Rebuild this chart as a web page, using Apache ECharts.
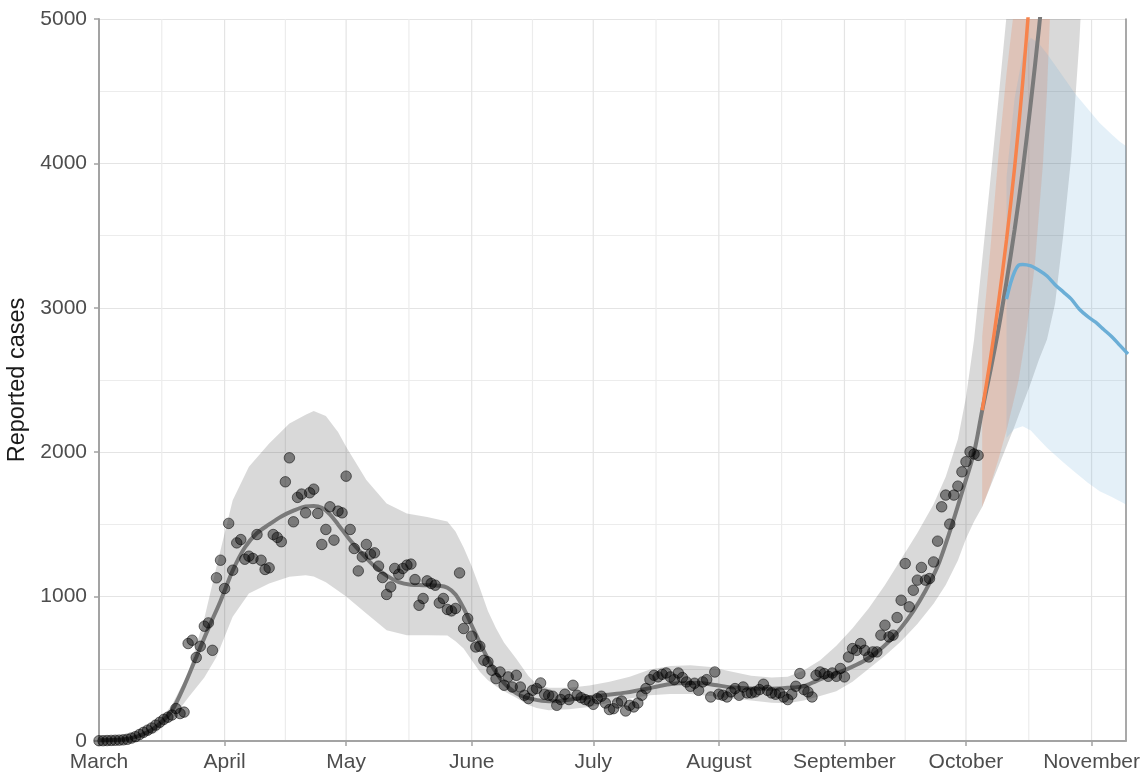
<!DOCTYPE html>
<html>
<head>
<meta charset="utf-8">
<script src="https://cdn.jsdelivr.net/npm/echarts@6/dist/echarts.min.js"></script>
<style>
  html, body { margin: 0; padding: 0; background: #ffffff; }
  #chart { width: 1141px; height: 773px; }
</style>
</head>
<body>
<div id="chart"></div>
<script>
// x positions are days since 1 March
const monthNames = ['March', 'April', 'May', 'June', 'July', 'August', 'September', 'October', 'November'];
const monthStartDays = [0, 31, 61, 92, 122, 153, 184, 214, 245];
const midMonthDays = [15.5, 46, 76.5, 107, 137.5, 168.5, 199, 229.5];

// daily reported cases, starting 1 March
const reportedCases = [
  2, 2, 3, 4, 5, 6, 8, 12, 20, 30, 45, 60, 75, 90, 110, 130, 150, 165, 180, 225, 190, 200,
  675, 698, 578, 656, 795, 818, 628, 1130, 1252, 1056, 1507, 1183, 1372, 1395, 1259, 1280, 1264, 1430, 1252, 1188, 1199, 1430, 1410, 1380,
  1795, 1961, 1518, 1687, 1710, 1580, 1719, 1744, 1576, 1361, 1465, 1622, 1391, 1592, 1580, 1834, 1465, 1333, 1178, 1275,
  1361, 1294, 1303, 1211, 1132, 1015, 1067, 1195, 1155, 1195, 1218, 1225, 1118, 940, 987, 1109, 1091, 1079, 956, 987,
  911, 901, 918, 1164, 779, 848, 726, 651, 656, 559, 548,
  490, 432, 478, 386, 444, 374, 455, 374, 317, 294, 351, 363, 402, 324, 317, 310, 247, 287, 324, 287,
  386, 317, 300, 287, 277, 254, 294, 310, 263, 218, 224, 263, 277, 208, 247, 236, 263, 317, 363, 425,
  455, 444, 462, 471, 444, 425, 471, 439, 409, 379, 400, 351, 409, 425, 305, 478, 324, 317, 305, 340,
  363, 317, 374, 333, 333, 340, 356, 393, 351, 333, 324, 333, 305, 287, 324, 379, 467, 356, 340,
  305, 455, 478, 467, 448, 471, 448, 502, 444, 582, 640, 628, 675, 628, 582, 617, 617, 733, 802, 721,
  733, 855, 975, 1229, 929, 1044, 1114, 1202, 1114, 1125, 1240, 1384, 1622, 1703, 1502, 1703, 1765, 1864, 1934, 2003,
  1987, 1978
];

// smoothed fit through the reported cases
const fitDays = [0, 4, 8, 12, 15, 18, 21, 24, 27, 30, 33, 36, 39, 42, 45, 48, 51, 53, 55, 57, 59, 62, 65, 68, 71, 74, 77, 80, 84, 86, 88, 90, 92, 94, 96, 98, 100, 102, 104, 107, 111, 115, 120, 125, 130, 135, 139, 143, 148, 152, 156, 161, 166, 170, 174, 177, 180, 183, 186, 189, 192, 195, 198, 201, 204, 207, 210, 213, 216, 218];
const fitValues = [5, 8, 20, 60, 120, 210, 380, 580, 780, 970, 1180, 1340, 1440, 1500, 1555, 1595, 1625, 1628, 1615, 1570, 1500, 1390, 1295, 1210, 1145, 1100, 1082, 1079, 1075, 1062, 1015, 920, 800, 680, 570, 475, 400, 350, 315, 290, 275, 282, 300, 318, 335, 360, 385, 400, 402, 388, 372, 363, 362, 368, 380, 415, 450, 478, 515, 558, 615, 690, 785, 900, 1040, 1210, 1450, 1720, 2000, 2290];

// band around the fit
const fitBandDays = [0, 5, 10, 14, 18, 22, 26, 29, 33, 37, 42, 47, 51, 53, 56, 59, 61, 66, 71, 76, 81, 86, 88, 90, 92, 94, 96, 98, 100, 103, 106, 108, 111, 116, 121, 126, 131, 136, 141, 146, 151, 156, 161, 166, 170, 174, 178, 182, 186, 190, 194, 198, 202, 206, 209, 212, 214, 216, 218, 220, 222, 224, 226, 228, 230, 232, 234, 236, 238, 240, 242, 243];
const fitBandLow = [0, 3, 20, 55, 150, 300, 440, 582, 860, 1021, 1090, 1137, 1148, 1140, 1100, 1040, 1000, 883, 767, 733, 733, 730, 690, 640, 560, 480, 421, 380, 345, 300, 250, 228, 213, 220, 236, 265, 295, 317, 326, 325, 312, 295, 280, 265, 262, 280, 312, 345, 410, 500, 590, 690, 810, 950, 1080, 1250, 1400, 1520, 1620, 1760, 1900, 2040, 2180, 2330, 2480, 2640, 2780, 3030, 3500, 4050, 4850, 5400];
const fitBandHigh = [8, 15, 45, 110, 250, 470, 850, 1206, 1668, 1899, 2060, 2199, 2260, 2285, 2250, 2140, 2037, 1807, 1645, 1576, 1552, 1520, 1450, 1340, 1210, 1060, 900, 780, 680, 570, 450, 395, 368, 368, 385, 410, 445, 495, 520, 525, 512, 482, 452, 440, 445, 490, 560, 660, 780, 920, 1080, 1260, 1440, 1640, 1830, 2090, 2380, 2780, 3330, 3880, 4440, 5020, 5600, 6200, 6800, 7400, 8000, 8600, 9200, 9800, 10400, 10700];

// continuation of the fit beyond the last report
const trendDays = [218, 220, 222, 224, 226, 228, 230, 232, 234];
const trendValues = [2290, 2560, 2850, 3180, 3540, 3950, 4420, 4930, 5500];

// orange scenario
const orangeDays = [218, 220, 222, 224, 226, 228, 230];
const orangeValues = [2290, 2640, 3030, 3470, 3970, 4560, 5250];
const orangeBandDays = [218, 220, 222, 224, 226, 227, 229, 231, 233, 234, 235];
const orangeBandLow = [1620, 1770, 1950, 2150, 2380, 2500, 2850, 3300, 4000, 4500, 5200];
const orangeBandHigh = [2800, 3400, 4050, 4620, 5100, 5400, 6000, 6600, 7200, 7500, 7800];

// blue scenario
const blueDays = [224, 225, 226, 227, 228, 230, 232, 234, 236, 238, 240, 242, 244, 246, 248, 250, 252, 254];
const blueValues = [3060, 3170, 3250, 3295, 3300, 3290, 3260, 3220, 3160, 3110, 3060, 2990, 2940, 2900, 2850, 2800, 2740, 2680];
const blueBandDays = [224, 226, 228, 230, 232, 234, 236, 238, 241, 244, 247, 250, 252, 254];
const blueBandLow = [2100, 2160, 2180, 2150, 2090, 2030, 1980, 1930, 1860, 1790, 1730, 1690, 1660, 1630];
const blueBandHigh = [3900, 4450, 4750, 4870, 4830, 4760, 4680, 4600, 4480, 4380, 4280, 4200, 4150, 4110];

const zip = (xs, ys) => xs.map((x, i) => [x, ys[i]]);

function clipRect(params) {
  const cs = params.coordSys;
  return { type: 'rect', shape: { x: cs.x, y: cs.y, width: cs.width, height: cs.height } };
}

function bandSeries(name, days, low, high, fill, z) {
  return {
    name: name,
    type: 'custom',
    silent: true,
    z: z,
    data: [[days[0], low[0]]],
    renderItem: function (params, api) {
      const pts = [];
      for (let i = 0; i < days.length; i++) pts.push(api.coord([days[i], high[i]]));
      for (let i = days.length - 1; i >= 0; i--) pts.push(api.coord([days[i], low[i]]));
      return {
        type: 'polygon',
        shape: { points: pts },
        style: { fill: fill },
        clipPath: clipRect(params)
      };
    }
  };
}

function verticalGridSeries(days, color, z) {
  return {
    type: 'custom',
    silent: true,
    z: z,
    data: days.map(d => [d, 0]),
    renderItem: function (params, api) {
      const d = api.value(0);
      const p0 = api.coord([d, 0]);
      const p1 = api.coord([d, 5000]);
      return {
        type: 'line',
        shape: { x1: p0[0], y1: p0[1], x2: p1[0], y2: p1[1] },
        style: { stroke: color, lineWidth: 1.2 }
      };
    }
  };
}

const font = 'Liberation Sans, Arial, Helvetica, sans-serif';
const chart = echarts.init(document.getElementById('chart'), null, { renderer: 'canvas' });

chart.setOption({
  animation: false,
  backgroundColor: '#ffffff',
  grid: { left: 99, right: 15, top: 19, bottom: 32, containLabel: false, outerBoundsMode: 'none' },
  xAxis: {
    type: 'value',
    min: 0,
    max: 253.5,
    splitLine: { show: false },
    axisLine: { show: true, onZero: false, lineStyle: { color: '#a3a3a3', width: 2 } },
    axisTick: { show: true, length: 5, customValues: monthStartDays, lineStyle: { color: '#a3a3a3', width: 1.5 } },
    axisLabel: {
      customValues: monthStartDays,
      margin: 11,
      color: '#4d4d4d',
      fontFamily: font,
      fontSize: 21,
      formatter: v => monthNames[monthStartDays.indexOf(v)]
    }
  },
  yAxis: [{
    type: 'value',
    min: 0,
    max: 5000,
    interval: 1000,
    name: 'Reported cases',
    nameLocation: 'middle',
    nameRotate: 90,
    nameGap: 66,
    nameTextStyle: { color: '#1a1a1a', fontFamily: font, fontSize: 23.5 },
    axisLine: { show: true, lineStyle: { color: '#a3a3a3', width: 2 } },
    axisTick: { show: true, length: 5, lineStyle: { color: '#a3a3a3', width: 1.5 } },
    axisLabel: {
      margin: 12,
      color: '#4d4d4d',
      fontFamily: font,
      fontSize: 21,
      formatter: v => String(v)
    },
    splitLine: { show: true, lineStyle: { color: '#e4e4e4', width: 1.2 } },
    minorTick: { show: false, splitNumber: 2 },
    minorSplitLine: { show: true, lineStyle: { color: '#ececec', width: 1.2 } }
  }, {
    type: 'value',
    position: 'right',
    min: 0,
    max: 5000,
    axisLine: { show: true, lineStyle: { color: '#8c8c8c', width: 1.5 } },
    axisTick: { show: false },
    axisLabel: { show: false },
    splitLine: { show: false }
  }],
  series: [
    verticalGridSeries(midMonthDays, '#ececec', 0),
    verticalGridSeries(monthStartDays.slice(1), '#e4e4e4', 0),
    bandSeries('fit band', fitBandDays, fitBandLow, fitBandHigh, 'rgba(0,0,0,0.15)', 1),
    bandSeries('orange band', orangeBandDays, orangeBandLow, orangeBandHigh, 'rgba(240,120,70,0.22)', 2),
    bandSeries('blue band', blueBandDays, blueBandLow, blueBandHigh, 'rgba(107,174,214,0.18)', 3),
    {
      name: 'fit',
      type: 'line',
      z: 4,
      data: zip(fitDays, fitValues).concat(zip(trendDays.slice(1), trendValues.slice(1))),
      smooth: 0.3,
      showSymbol: false,
      clip: true,
      lineStyle: { color: '#7a7a7a', width: 4 }
    },
    {
      name: 'orange',
      type: 'line',
      z: 5,
      data: zip(orangeDays, orangeValues),
      smooth: 0.3,
      showSymbol: false,
      clip: true,
      lineStyle: { color: '#f7834c', width: 3.5 }
    },
    {
      name: 'blue',
      type: 'line',
      z: 5,
      data: zip(blueDays, blueValues),
      smooth: 0.3,
      showSymbol: false,
      clip: true,
      lineStyle: { color: '#6baed6', width: 3.5 }
    },
    {
      name: 'reported',
      type: 'scatter',
      z: 6,
      data: reportedCases.map((v, i) => [i, v]),
      symbol: 'circle',
      symbolSize: 10.5,
      itemStyle: { color: 'rgba(0,0,0,0.55)', borderColor: 'rgba(0,0,0,0.65)', borderWidth: 1 }
    }
  ]
});
</script>
</body>
</html>
